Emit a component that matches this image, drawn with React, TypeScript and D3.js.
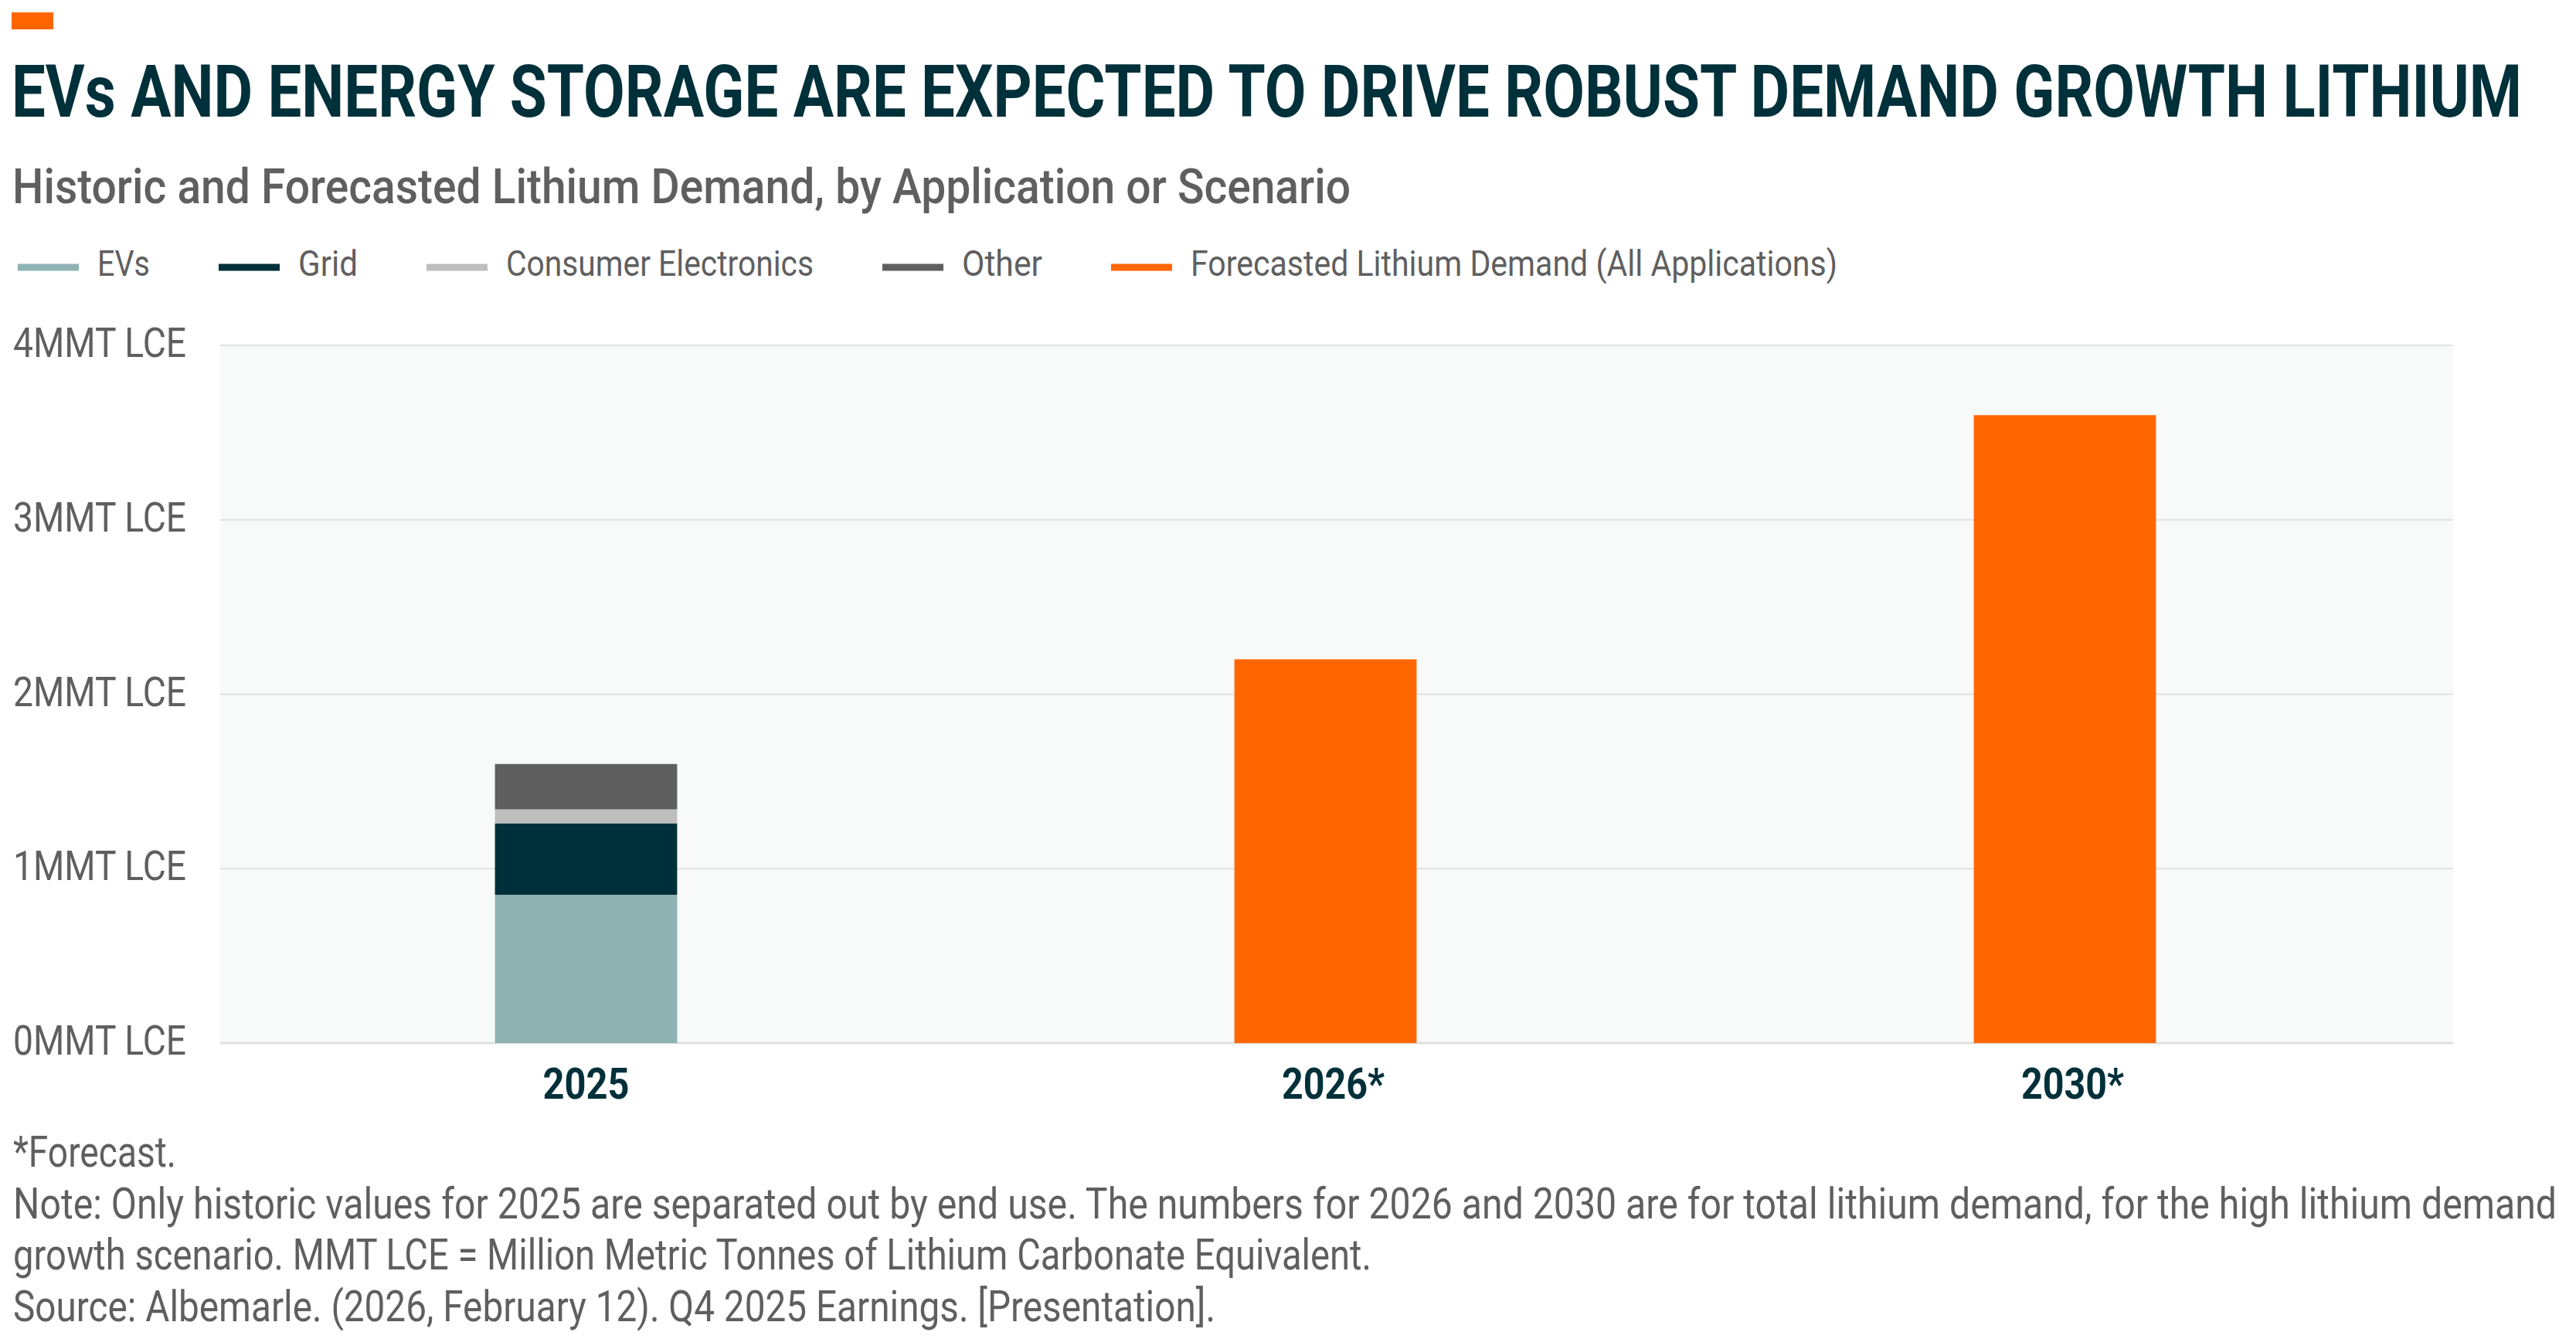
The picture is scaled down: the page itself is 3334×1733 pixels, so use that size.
import React from "react";
import * as d3 from "d3";

// ---- data ----
const categories = ["2025", "2026*", "2030*"];
const evs = [0.85, 0, 0];
const grid = [0.41, 0, 0];
const consumerElectronics = [0.08, 0, 0];
const other = [0.26, 0, 0];
const forecast = [0, 2.2, 3.6];
const yTicks = [0, 1, 2, 3, 4];
const seriesKeys = ["evs", "grid", "ce", "other", "forecast"];
const seriesLabels = ["EVs", "Grid", "Consumer Electronics", "Other", "Forecasted Lithium Demand (All Applications)"];
const seriesColors = ["#8fb3b3", "#00303a", "#bdbebd", "#5f5f5f", "#ff6600"];

const title = "EVs AND ENERGY STORAGE ARE EXPECTED TO DRIVE ROBUST DEMAND GROWTH LITHIUM";
const subtitle = "Historic and Forecasted Lithium Demand, by Application or Scenario";
const notes = [
  "*Forecast.",
  "Note: Only historic values for 2025 are separated out by end use. The numbers for 2026 and 2030 are for total lithium demand, for the high lithium demand",
  "growth scenario. MMT LCE = Million Metric Tonnes of Lithium Carbonate Equivalent.",
  "Source: Albemarle. (2026, February 12). Q4 2025 Earnings. [Presentation].",
];

// ---- layout ----
const W = 3334;
const H = 1733;
const plotLeft = 285;
const plotRight = 3175;
const plotTop = 447;
const plotBottom = 1350;
const FONT = "Roboto, 'Noto Sans', sans-serif";
const DARK = "#00303a";
const GREY = "#5f5f5f";

// target rendered widths (condensed face emulation)
const legendTextWidths = [68, 77, 398, 104, 837];
const noteWidths = [211, 3292, 1758, 1556];
const xLabelWidths = [112, 133, 133];

export default function App() {
  const rows = categories.map((c, i) => ({
    cat: c,
    evs: evs[i],
    grid: grid[i],
    ce: consumerElectronics[i],
    other: other[i],
    forecast: forecast[i],
  }));
  const stacked = d3.stack<any>().keys(seriesKeys)(rows);

  const y = d3.scaleLinear().domain([0, 4]).range([plotBottom, plotTop]);
  const x = d3
    .scaleBand<string>()
    .domain(categories)
    .range([plotLeft - 5, plotRight - 24])
    .paddingInner(0.7536)
    .paddingOuter(0.3768);

  // legend layout
  const legendY = 346;
  const swatchW = 79;
  const textOffset = 103;
  let lx = 23;
  const legendItems = seriesLabels.map((label, i) => {
    const item = { label, color: seriesColors[i], x: lx, w: legendTextWidths[i] };
    lx = lx + textOffset + legendTextWidths[i] + 89;
    return item;
  });

  return (
    <svg
      width={W}
      height={H}
      style={{ position: "absolute", left: 0, top: 0, display: "block", background: "#fff" }}
      fontFamily={FONT}
    >
      <rect x={15} y={16} width={54} height={22} fill="#ff6600" />
      <text x={15} y={151} fontSize={94} fontWeight={700} fill={DARK} textLength={3249} lengthAdjust="spacingAndGlyphs">
        {title}
      </text>
      <text x={16} y={263} fontSize={63} fontWeight={500} fill={GREY} textLength={1732} lengthAdjust="spacingAndGlyphs">
        {subtitle}
      </text>

      {/* legend */}
      {legendItems.map((it) => (
        <g key={it.label}>
          <rect x={it.x} y={legendY - 4.5} width={swatchW} height={9} fill={it.color} />
          <text
            x={it.x + textOffset}
            y={357}
            fontSize={47}
            fontWeight={400}
            fill={GREY}
            textLength={it.w}
            lengthAdjust="spacingAndGlyphs"
          >
            {it.label}
          </text>
        </g>
      ))}

      {/* plot background */}
      <rect x={plotLeft} y={plotTop} width={plotRight - plotLeft} height={plotBottom - plotTop} fill="#f8f9f9" />

      {/* grid + y labels */}
      {yTicks.map((t) => (
        <g key={t}>
          <line
            x1={plotLeft}
            x2={plotRight}
            y1={y(t)}
            y2={y(t)}
            stroke="#dfe0e0"
            strokeWidth={t === 0 ? 3 : 2}
          />
          <text
            x={17}
            y={y(t) + 15}
            fontSize={53}
            fill={GREY}
            textLength={224}
            lengthAdjust="spacingAndGlyphs"
          >
            {`${t}MMT LCE`}
          </text>
        </g>
      ))}

      {/* bars */}
      {stacked.map((s, si) => (
        <g key={s.key} fill={seriesColors[si]}>
          {s.map((d, i) =>
            d[1] - d[0] > 0 ? (
              <rect
                key={i}
                x={x(categories[i])}
                width={x.bandwidth()}
                y={y(d[1])}
                height={y(d[0]) - y(d[1])}
              />
            ) : null
          )}
        </g>
      ))}

      {/* x labels */}
      {categories.map((c, i) => {
        const hasStar = c.endsWith("*");
        const cx = (x(c) as number) + x.bandwidth() / 2 + (hasStar ? 10 : 0);
        return (
          <text
            key={c}
            x={cx - xLabelWidths[i] / 2}
            y={1422}
            fontSize={56}
            fontWeight={700}
            fill={DARK}
            textLength={xLabelWidths[i]}
            lengthAdjust="spacingAndGlyphs"
          >
            {c}
          </text>
        );
      })}

      {/* notes */}
      {notes.map((n, i) => (
        <text
          key={i}
          x={17}
          y={1510 + i * 66.5}
          fontSize={55}
          fill={GREY}
          textLength={noteWidths[i]}
          lengthAdjust="spacingAndGlyphs"
        >
          {n}
        </text>
      ))}
    </svg>
  );
}
